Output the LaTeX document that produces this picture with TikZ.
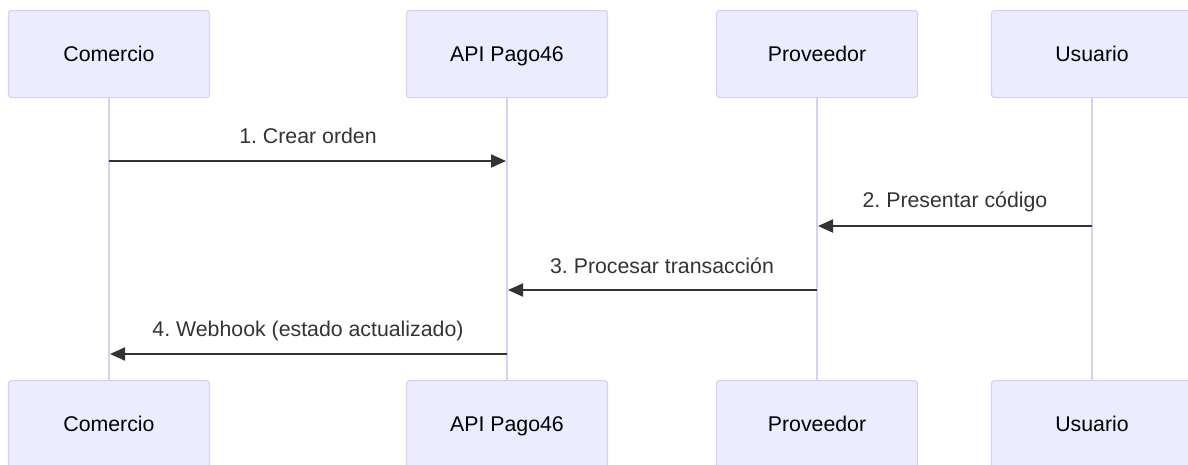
\documentclass[tikz,border=0pt]{standalone}
\usepackage{fontspec}
\setmainfont{Liberation Sans}
\frenchspacing
\usetikzlibrary{arrows.meta}
\definecolor{actorfill}{HTML}{ECECFF}
\definecolor{actorline}{HTML}{DACEF3}
\definecolor{msgcol}{HTML}{333333}
\tikzset{
  actor/.style={draw=actorline, fill=actorfill, line width=1.2pt, rounded corners=3pt,
    minimum width=201pt, minimum height=87pt, inner sep=0pt, anchor=north,
    text height=15pt, text depth=0pt,
    font=\fontsize{21.3pt}{25pt}\selectfont, text=black},
  lifeline/.style={draw=actorline, line width=2pt},
  msg/.style={draw=msgcol, line width=2pt, -{Triangle[length=15pt,width=13pt]}, shorten >=1pt},
  msglabel/.style={font=\fontsize{21.3pt}{25pt}\selectfont, text=msgcol, anchor=base, inner sep=0pt}
}
\begin{document}
\begin{tikzpicture}[x=1pt,y=-1pt]
\useasboundingbox (0,0) rectangle (1188,464);
\clip (0,0) rectangle (1188,464);
% lifelines
\draw[lifeline] (109,97) coordinate (l1t) -- (109,380) coordinate (l1b);
\draw[lifeline] (507,97) coordinate (l2t) -- (507,380) coordinate (l2b);
\draw[lifeline] (817,97) coordinate (l3t) -- (817,380) coordinate (l3b);
\draw[lifeline] (1092,97) coordinate (l4t) -- (1092,380) coordinate (l4b);
% actors top
\node[actor] (a1) at (109,10) {Comercio};
\node[actor] (a2) at (507,10) {API Pago46};
\node[actor] (a3) at (817,10) {Proveedor};
\node[actor] (a4) at (1092,10) {Usuario};
% actors bottom
\node[actor] (b1) at (109,380) {Comercio};
\node[actor] (b2) at (507,380) {API Pago46};
\node[actor] (b3) at (817,380) {Proveedor};
\node[actor] (b4) at (1092,380) {Usuario};
% message anchor points
\coordinate (m1s) at (109,161); \coordinate (m1e) at (507,161);
\coordinate (m2s) at (1092,226); \coordinate (m2e) at (817,226);
\coordinate (m3s) at (817,290); \coordinate (m3e) at (507,290);
\coordinate (m4s) at (507,354); \coordinate (m4e) at (109,354);
% messages
\draw[msg] (m1s) -- (m1e);
\node[msglabel] (t1) at (308,143) {1. Crear orden};
\draw[msg] (m2s) -- (m2e);
\node[msglabel] (t2) at (955,207) {2. Presentar código};
\draw[msg] (m3s) -- (m3e);
\node[msglabel] (t3) at (662,273) {3. Procesar transacción};
\draw[msg] (m4s) -- (m4e);
\node[msglabel] (t4) at (308,336) {4. Webhook (estado actualizado)};
\end{tikzpicture}
\end{document}
